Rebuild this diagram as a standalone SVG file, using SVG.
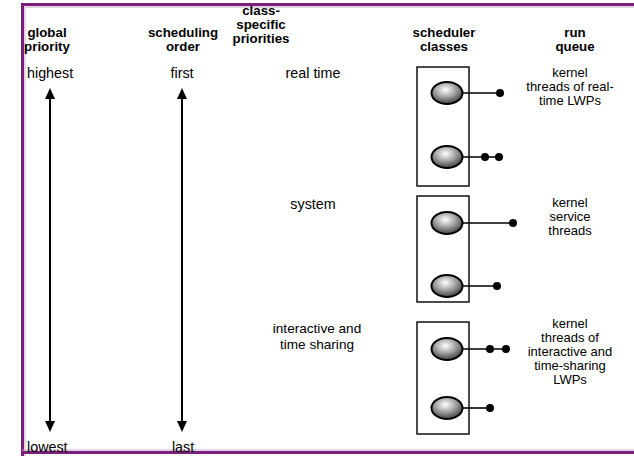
<svg xmlns="http://www.w3.org/2000/svg" width="634" height="456" viewBox="0 0 634 456">
  <defs>
    <radialGradient id="ballShade" cx="0.45" cy="0.35" r="0.7">
      <stop offset="0" stop-color="#ffffff"/>
      <stop offset="0.45" stop-color="#a8a8a8"/>
      <stop offset="1" stop-color="#303030"/>
    </radialGradient>
    <marker id="arrowHead" markerWidth="12" markerHeight="12" refX="9" refY="6" orient="auto-start-reverse" markerUnits="userSpaceOnUse">
      <path d="M0,1 L11,6 L0,11 Z" fill="#000"/>
    </marker>
  </defs>
  <style>
    .hdr { font-family: "Liberation Sans", Arial, sans-serif; font-size: 13.3px; font-weight: bold; fill: #000; text-anchor: middle; }
    .lbl { font-family: "Liberation Sans", Arial, sans-serif; font-size: 14.3px; fill: #000; text-anchor: middle; }
    .rq { font-size: 13px; }
    .two { font-size: 13.6px; }
    .lft { text-anchor: start; }
    .box { fill: #fff; stroke: #000; stroke-width: 1.4; }
    .ball { fill: url(#ballShade); stroke: #000; stroke-width: 2; }
    .link { stroke: #000; stroke-width: 1.6; fill: none; }
    .dot { fill: #000; }
    .axis { stroke: #000; stroke-width: 2; fill: none; marker-start: url(#arrowHead); marker-end: url(#arrowHead); }
  </style>

  <rect x="0" y="0" width="634" height="456" fill="#fff"/>

  <!-- purple slide frame -->
  <g id="frame" fill="none">
    <path d="M22.5,456 V4.5 H634" stroke="#7a1f7a" stroke-width="3"/>
    <path d="M25,456 V7 H634" stroke="#c9a6cf" stroke-width="1"/>
    <path d="M22,452.5 H634" stroke="#7a1f7a" stroke-width="3"/>
    <path d="M22,450 H634" stroke="#c9a6cf" stroke-width="1"/>
  </g>

  <!-- column headings -->
  <g id="headings">
    <text class="hdr" x="47" y="37">global</text>
    <text class="hdr" x="47" y="51">priority</text>
    <text class="hdr" x="183" y="37">scheduling</text>
    <text class="hdr" x="183" y="51">order</text>
    <text class="hdr" x="261" y="15">class-</text>
    <text class="hdr" x="261" y="29">specific</text>
    <text class="hdr" x="261" y="43">priorities</text>
    <text class="hdr" x="444" y="37">scheduler</text>
    <text class="hdr" x="444" y="51">classes</text>
    <text class="hdr" x="575" y="37">run</text>
    <text class="hdr" x="575" y="51">queue</text>
  </g>

  <!-- priority / order axes -->
  <g id="axes">
    <text class="lbl lft" x="27" y="78">highest</text>
    <text class="lbl" x="182" y="78">first</text>
    <text class="lbl lft" x="27" y="452">lowest</text>
    <text class="lbl" x="183" y="452">last</text>
  </g>

  <!-- class-specific priority labels -->
  <g id="class-labels">
    <text class="lbl" x="313" y="78">real time</text>
    <text class="lbl" x="313" y="209">system</text>
    <text class="lbl two" x="317" y="333">interactive and</text>
    <text class="lbl two" x="317" y="349">time sharing</text>
  </g>

  <!-- scheduler class: real time -->
  <g id="class-realtime">
    <rect class="box" x="417" y="67" width="52" height="119"/>
    <ellipse class="ball" cx="447" cy="93" rx="15.5" ry="11"/>
    <ellipse class="ball" cx="447" cy="157" rx="15.5" ry="11"/>
  </g>

  <!-- scheduler class: system -->
  <g id="class-system">
    <rect class="box" x="417" y="196" width="52" height="106"/>
    <ellipse class="ball" cx="447" cy="223" rx="15.5" ry="11"/>
    <ellipse class="ball" cx="447" cy="286" rx="15.5" ry="11"/>
  </g>

  <!-- scheduler class: interactive and time sharing -->
  <g id="class-interactive">
    <rect class="box" x="417" y="322" width="52" height="112"/>
    <ellipse class="ball" cx="447" cy="349" rx="15.5" ry="11"/>
    <ellipse class="ball" cx="447" cy="408" rx="15.5" ry="11"/>
  </g>

  <!-- run queue descriptions -->
  <g id="queue-labels">
    <text class="lbl rq" x="570" y="77">kernel</text>
    <text class="lbl rq" x="570" y="91">threads of real-</text>
    <text class="lbl rq" x="570" y="105">time LWPs</text>
    <text class="lbl rq" x="570" y="207">kernel</text>
    <text class="lbl rq" x="570" y="221">service</text>
    <text class="lbl rq" x="570" y="235">threads</text>
    <text class="lbl rq" x="570" y="328">kernel</text>
    <text class="lbl rq" x="570" y="342">threads of</text>
    <text class="lbl rq" x="570" y="356">interactive and</text>
    <text class="lbl rq" x="570" y="370">time-sharing</text>
    <text class="lbl rq" x="570" y="384">LWPs</text>
  </g>

  <!-- connectors: axes and queued threads -->
  <g id="connectors">
    <line class="axis" x1="50" y1="90" x2="50" y2="430"/>
    <line class="axis" x1="182" y1="90" x2="182" y2="430"/>

    <line class="link" x1="462" y1="93" x2="500" y2="93"/>
    <circle class="dot" cx="500" cy="93" r="4"/>

    <line class="link" x1="462" y1="157" x2="499" y2="157"/>
    <circle class="dot" cx="485" cy="157" r="4"/>
    <circle class="dot" cx="499" cy="157" r="4"/>

    <line class="link" x1="462" y1="223" x2="513" y2="223"/>
    <circle class="dot" cx="513" cy="223" r="4"/>

    <line class="link" x1="462" y1="286" x2="497" y2="286"/>
    <circle class="dot" cx="497" cy="286" r="4"/>

    <line class="link" x1="462" y1="349" x2="506" y2="349"/>
    <circle class="dot" cx="490" cy="349" r="4"/>
    <circle class="dot" cx="506" cy="349" r="4"/>

    <line class="link" x1="462" y1="408" x2="490" y2="408"/>
    <circle class="dot" cx="490" cy="408" r="4"/>
  </g>
</svg>
